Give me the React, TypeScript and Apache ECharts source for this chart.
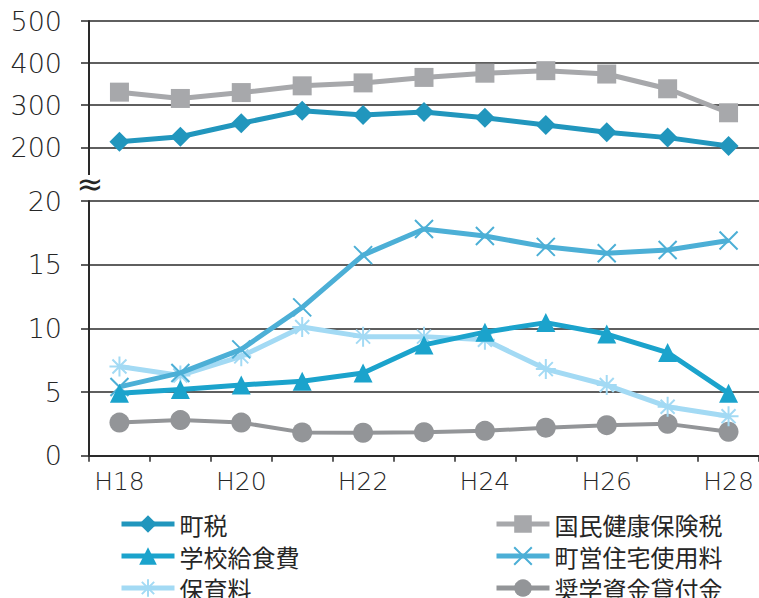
import React, { useEffect, useRef } from "react";
import * as echarts from "echarts";

const categories = ["H18", "H19", "H20", "H21", "H22", "H23", "H24", "H25", "H26", "H27", "H28"];
const chozei = [213, 225, 257, 287, 277, 284, 270, 253, 236, 223, 203];
const kokuho = [331, 316, 330, 346, 353, 366, 376, 382, 374, 339, 282];
const kyushoku = [4.9, 5.2, 5.55, 5.85, 6.5, 8.7, 9.7, 10.45, 9.55, 8.1, 4.9];
const jutaku = [5.4, 6.5, 8.35, 11.65, 15.75, 17.8, 17.25, 16.4, 15.9, 16.15, 16.9];
const hoiku = [7.0, 6.3, 7.8, 10.1, 9.35, 9.35, 9.1, 6.8, 5.55, 3.85, 3.1];
const shogaku = [2.6, 2.8, 2.6, 1.83, 1.8, 1.85, 1.95, 2.2, 2.4, 2.5, 1.88];
const topTicks = [200, 300, 400, 500];
const bottomTicks = [0, 5, 10, 15, 20];
const legendLeft = ["町税", "学校給食費", "保育料"];
const legendRight = ["国民健康保険税", "町営住宅使用料", "奨学資金貸付金"];

const C_CHOZEI = "#2196bd";
const C_KOKUHO = "#a7a8ab";
const C_KYUSHOKU = "#1ba3cc";
const C_JUTAKU = "#4cafd6";
const C_HOIKU = "#a3daf4";
const C_SHOGAKU = "#939598";
const AXIS = "#2a2a2a";
const TEXT = "#262626";
const NUMFONT = "DejaVu Sans";
const JPFONT = "Noto Sans CJK JP";

const X_SYMBOL = "path://M0,0L20,20M20,0L0,20";
const AST_SYMBOL = "path://M10,0L10,20M0,10L20,10M3,3L17,17M17,3L3,17";

export default function App() {
  const ref = useRef<HTMLDivElement>(null);
  useEffect(() => {
    if (!ref.current) return;
    const chart = echarts.init(ref.current, undefined, { renderer: "svg" });
    const gridLeft = 89;
    const gridWidth = 674;
    const yLabel = {
      fontSize: 27,
      fontFamily: NUMFONT,
      fontWeight: 200 as any,
      color: TEXT,
      margin: 27,
    };
    const splitLine = { show: true, lineStyle: { color: AXIS, width: 1.5 } };
    const yAxisLine = { show: true, lineStyle: { color: AXIS, width: 2 } };
    const yTick = { show: true, length: 8, lineStyle: { color: AXIS, width: 1.5 } };
    const rowTops = [512, 544, 576];
    const legends: any[] = [];
    const mkLegend = (name: string, left: number, top: number) => ({
      data: [name],
      orient: "vertical",
      left,
      top,
      padding: 0,
      itemWidth: 53,
      itemHeight: 22,
      lineStyle: { width: 5 },
      textStyle: { fontSize: 24, fontFamily: JPFONT, color: TEXT },
    });
    legendLeft.forEach((n, i) => legends.push(mkLegend(n, 119, rowTops[i])));
    legendRight.forEach((n, i) => legends.push(mkLegend(n, 494, rowTops[i])));
    chart.setOption({
      animation: false,
      backgroundColor: "#ffffff",
      grid: [
        { left: gridLeft, top: 21, width: gridWidth, height: 126.3 },
        { left: gridLeft, top: 201, width: gridWidth, height: 254.7 },
      ],
      xAxis: [
        {
          type: "category",
          gridIndex: 0,
          data: categories,
          boundaryGap: true,
          show: false,
        },
        {
          type: "category",
          gridIndex: 1,
          data: categories,
          boundaryGap: true,
          axisLine: { show: true, lineStyle: { color: AXIS, width: 2 } },
          axisTick: { show: true, interval: 0, length: 6, lineStyle: { color: AXIS, width: 1.5 } },
          axisLabel: {
            interval: 1,
            fontSize: 25,
            fontFamily: NUMFONT,
            fontWeight: 200 as any,
            color: TEXT,
            margin: 13,
          },
        },
      ],
      yAxis: [
        {
          type: "value",
          gridIndex: 0,
          min: topTicks[0],
          max: topTicks[topTicks.length - 1],
          interval: 100,
          axisLine: yAxisLine,
          axisTick: yTick,
          axisLabel: yLabel,
          splitLine,
        },
        {
          type: "value",
          gridIndex: 1,
          min: bottomTicks[0],
          max: bottomTicks[bottomTicks.length - 1],
          interval: 5,
          axisLine: yAxisLine,
          axisTick: yTick,
          axisLabel: yLabel,
          splitLine,
        },
      ],
      legend: legends,
      graphic: [
        {
          type: "line",
          shape: { x1: gridLeft, y1: 147, x2: gridLeft, y2: 175 },
          style: { stroke: AXIS, lineWidth: 2 },
        },
        {
          type: "text",
          x: gridLeft + 1,
          y: 184,
          style: {
            text: "≈",
            fontSize: 32,
            fontFamily: NUMFONT,
            fill: TEXT,
            align: "center",
            verticalAlign: "middle",
          },
        },
      ],
      series: [
        {
          name: "町税",
          type: "line",
          xAxisIndex: 0,
          yAxisIndex: 0,
          data: chozei,
          symbol: "diamond",
          symbolSize: 20,
          lineStyle: { color: C_CHOZEI, width: 5 },
          itemStyle: { color: C_CHOZEI },
          z: 3,
        },
        {
          name: "国民健康保険税",
          type: "line",
          xAxisIndex: 0,
          yAxisIndex: 0,
          data: kokuho,
          symbol: "rect",
          symbolSize: 19,
          lineStyle: { color: C_KOKUHO, width: 5 },
          itemStyle: { color: C_KOKUHO },
          z: 2,
        },
        {
          name: "学校給食費",
          type: "line",
          xAxisIndex: 1,
          yAxisIndex: 1,
          data: kyushoku,
          symbol: "triangle",
          symbolSize: [19, 19],
          lineStyle: { color: C_KYUSHOKU, width: 5 },
          itemStyle: { color: C_KYUSHOKU },
          z: 5,
        },
        {
          name: "町営住宅使用料",
          type: "line",
          xAxisIndex: 1,
          yAxisIndex: 1,
          data: jutaku,
          symbol: X_SYMBOL,
          symbolSize: 18,
          lineStyle: { color: C_JUTAKU, width: 5 },
          itemStyle: { color: C_JUTAKU, borderColor: C_JUTAKU, borderWidth: 2 },
          z: 4,
        },
        {
          name: "保育料",
          type: "line",
          xAxisIndex: 1,
          yAxisIndex: 1,
          data: hoiku,
          symbol: AST_SYMBOL,
          symbolSize: 20,
          lineStyle: { color: C_HOIKU, width: 5 },
          itemStyle: { color: C_HOIKU, borderColor: C_HOIKU, borderWidth: 2 },
          z: 3,
        },
        {
          name: "奨学資金貸付金",
          type: "line",
          xAxisIndex: 1,
          yAxisIndex: 1,
          data: shogaku,
          symbol: "circle",
          symbolSize: 20,
          lineStyle: { color: C_SHOGAKU, width: 4 },
          itemStyle: { color: C_SHOGAKU },
          z: 2,
        },
      ],
    });
    return () => chart.dispose();
  }, []);
  return (
    <div
      ref={ref}
      style={{ position: "absolute", left: 0, top: 0, width: 759, height: 598 }}
    />
  );
}
